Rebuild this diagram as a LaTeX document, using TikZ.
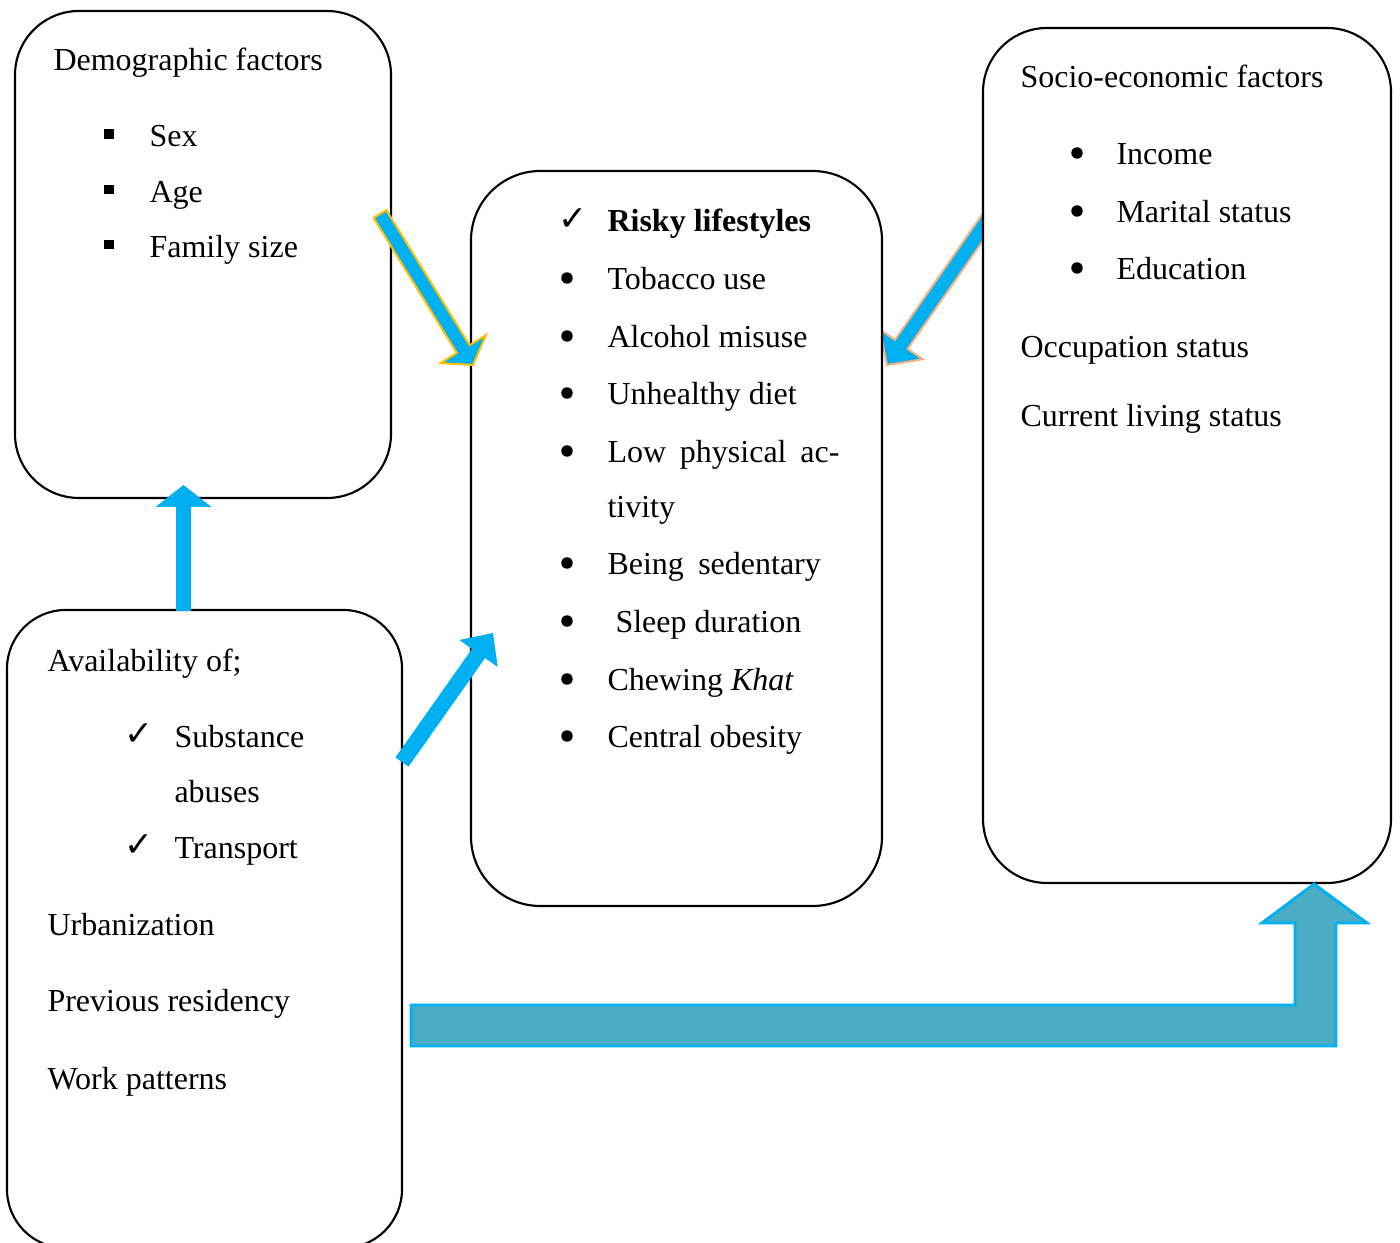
\documentclass[tikz,border=0pt]{standalone}
\usepackage{fontspec}
\setmainfont{Liberation Serif}
\newfontfamily\symfont{DejaVu Sans}
\usetikzlibrary{calc}

\definecolor{arrblue}{HTML}{00B0F0}
\definecolor{arrgold}{HTML}{FFC000}
\definecolor{arrpeach}{HTML}{F4B183}
\definecolor{arrteal}{HTML}{4BACC6}

% block arrow: [style]{from}{to}{shaft half width}{head half width}{head length}
\newcommand{\blockarrow}[6][]{%
  \path[#1] ($(#2)!#4!90:(#3)$) -- ($(#3)!#6!(#2)!#4!-90:(#2)$)
    -- ($(#3)!#6!(#2)!#5!-90:(#2)$) -- (#3)
    -- ($(#3)!#6!(#2)!#5!90:(#2)$) -- ($(#3)!#6!(#2)!#4!90:(#2)$)
    -- ($(#2)!#4!-90:(#3)$) -- cycle;}

\tikzset{
  box/.style = {draw, line width=0.8pt, rounded corners=24pt, fill=white, inner sep=0pt},
  txt/.style = {anchor=base west, inner sep=0pt, font=\fontsize{12}{14}\selectfont},
  bul/.style = {circle, fill, inner sep=0pt, minimum size=4.3pt},
  sq/.style  = {rectangle, fill, inner sep=0pt, minimum size=3.5pt},
  chk/.style = {anchor=base, inner sep=0pt, font=\symfont\fontsize{13}{15}\selectfont}
}

\begin{document}
\begin{tikzpicture}[x=0.375pt, y=-0.375pt]
  \useasboundingbox (0,0) rectangle (1400,1243);

  % arrow into the risk box from the right (behind socio box)
  \coordinate (socA) at (1001,201);
  \coordinate (socB) at (887,365);
  \blockarrow[fill=arrblue, draw=arrpeach, line width=0.75pt]{socA}{socB}{2.9pt}{9.75pt}{9.4pt}

  % boxes
  \node[box, minimum width={376*0.375pt}, minimum height={487*0.375pt}] (demo) at (203,254.5) {};
  \node[box, minimum width={411*0.375pt}, minimum height={735*0.375pt}, rounded corners=26pt] (risk) at (676.5,538.5) {};
  \node[box, minimum width={408*0.375pt}, minimum height={855*0.375pt}] (socio) at (1187,455.5) {};
  \node[box, minimum width={395*0.375pt}, minimum height={638*0.375pt}, rounded corners=22pt] (avail) at (204.5,929) {};

  % demographic factors
  \node[txt] (demoT) at (53,71) {Demographic factors};
  \foreach \name/\y/\txt in {sex/147/Sex, age/202.5/Age, fam/257.5/Family size} {
    \node[sq] (s-\name) at (109,\y-13) {};
    \node[txt] (t-\name) at (149,\y) {\txt};
  }

  % risky lifestyles
  \node[chk] (c-risk) at (573,231) {✓};
  \node[txt] (riskT) at (607,232) {\textbf{Risky lifestyles}};
  \foreach \name/\y/\txt in {tob/290/Tobacco use, alc/348/Alcohol misuse,
      diet/405/Unhealthy diet, low/463/{\makebox[87pt][s]{Low physical ac-}},
      sed/575/{\makebox[80pt][s]{Being sedentary}}, kht/691/{Chewing \textit{Khat}},
      obe/748/Central obesity} {
    \node[bul] (b-\name) at (567,\y-12) {};
    \node[txt] (t-\name) at (607,\y) {\txt};
  }
  \node[txt] (t-tiv) at (607,518) {tivity};
  \node[bul] (b-slp) at (567,621) {};
  \node[txt] (t-slp) at (615,633) {Sleep duration};

  % socio-economic factors
  \node[txt] (socT) at (1020,88) {Socio-economic factors};
  \foreach \name/\y/\txt in {inc/165/Income, mar/223/Marital status, edu/280/Education} {
    \node[bul] (b-\name) at (1077,\y-12) {};
    \node[txt] (t-\name) at (1116,\y) {\txt};
  }
  \node[txt] (t-occ) at (1020,358) {Occupation status};
  \node[txt] (t-cur) at (1020,427) {Current living status};

  % availability
  \node[txt] (availT) at (47,672) {Availability of;};
  \node[chk] (c-sub) at (139,746) {✓};
  \node[txt] (t-sub) at (174,748) {Substance};
  \node[txt] (t-abu) at (174,803) {abuses};
  \node[chk] (c-tra) at (139,857) {✓};
  \node[txt] (t-tra) at (174,859) {Transport};
  \node[txt] (t-urb) at (47,935) {Urbanization};
  \node[txt] (t-prev) at (47,1012) {Previous residency};
  \node[txt] (t-work) at (47,1089) {Work patterns};

  % arrows
  \coordinate (demA) at (380,214);
  \coordinate (demB) at (473,365);
  \blockarrow[fill=arrblue, draw=arrgold, line width=0.75pt]{demA}{demB}{2.8pt}{10pt}{7pt}

  \coordinate (upA) at (183.5,611);
  \coordinate (upB) at (183.5,485);
  \blockarrow[fill=arrblue]{upA}{upB}{2.8pt}{10.5pt}{8.25pt}

  \coordinate (avA) at (402,762);
  \coordinate (avB) at (493,633);
  \blockarrow[fill=arrblue]{avA}{avB}{3pt}{8.8pt}{9.4pt}

  \draw[fill=arrteal, draw=arrblue, line width=1.1pt]
    (411,1005) -- (1295,1005) -- (1295,923) -- (1262,923) -- (socio.south -| 1314,0)
    -- (1367,923) -- (1336,923) -- (1336,1046) -- (411,1046) -- cycle;
\end{tikzpicture}
\end{document}
